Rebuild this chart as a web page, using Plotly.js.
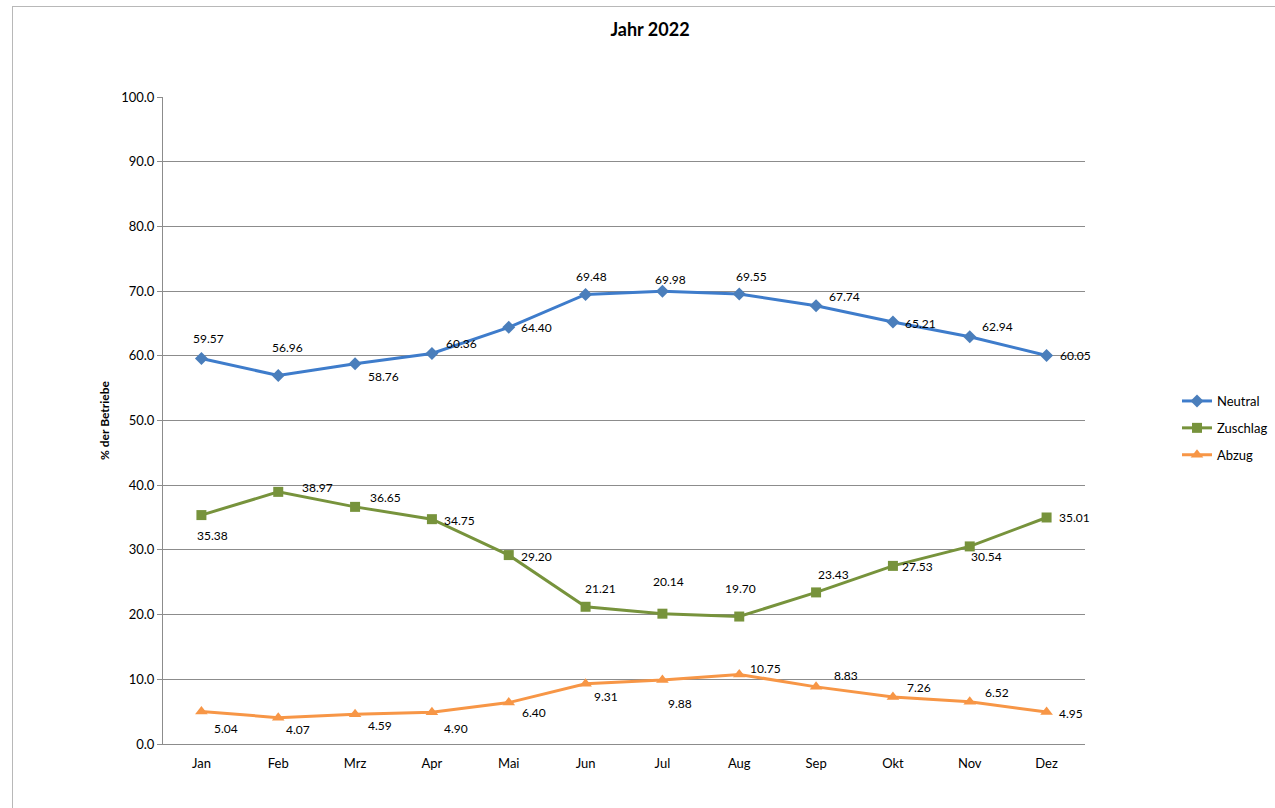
<!DOCTYPE html>
<html>
<head>
<meta charset="utf-8">
<script src="https://cdn.plot.ly/plotly-3.0.1.min.js"></script>
<style>
  html, body { margin: 0; padding: 0; background: #ffffff; overflow: hidden; }
  #frame { position: absolute; left: 12px; top: 6px; width: 1400px; height: 900px; border: 1.5px solid #b8b8b8; box-sizing: border-box; }
  #chart { position: absolute; left: 0; top: 0; width: 1275px; height: 808px; }
</style>
</head>
<body>
<div id="frame"></div>
<div id="chart"></div>
<script>
// ---- data ----
const months = ["Jan", "Feb", "Mrz", "Apr", "Mai", "Jun", "Jul", "Aug", "Sep", "Okt", "Nov", "Dez"];
const neutral = [59.57, 56.96, 58.76, 60.36, 64.40, 69.48, 69.98, 69.55, 67.74, 65.21, 62.94, 60.05];
const zuschlag = [35.38, 38.97, 36.65, 34.75, 29.20, 21.21, 20.14, 19.70, 23.43, 27.53, 30.54, 35.01];
const abzug = [5.04, 4.07, 4.59, 4.90, 6.40, 9.31, 9.88, 10.75, 8.83, 7.26, 6.52, 4.95];
const seriesNames = ["Neutral", "Zuschlag", "Abzug"];
const yTickVals = [0, 10, 20, 30, 40, 50, 60, 70, 80, 90, 100];

// ---- label offsets (pixels: dx right, dy down) ----
const neutralOff = [[7,-20],[9,-28],[28,13],[30,-10],[28,0],[6,-18],[8,-12],[12,-18],[28,-9],[28,1],[28,-10],[29,0]];
const zuschlagOff = [[11,20],[39,-4],[30,-9],[28,1],[28,1],[15,-18],[6,-32],[1,-28],[17,-18],[25,1],[17,10],[28,0]];
const abzugOff = [[25,17],[20,12],[25,11],[24,16],[25,10],[20,13],[18,23],[26,-6],[30,-11],[26,-10],[27,-9],[24,2]];

const colors = {
  Neutral: { line: "#3e7ccb", marker: "#4a7ebb", symbol: "diamond", size: 10 },
  Zuschlag: { line: "#77933c", marker: "#77933c", symbol: "square", size: 10 },
  Abzug: { line: "#f79646", marker: "#f79646", symbol: "triangle-up", size: 11 }
};

const FONT = "Lato, 'Open Sans', 'DejaVu Sans', sans-serif";
const allValues = [neutral, zuschlag, abzug];
const allOffsets = [neutralOff, zuschlagOff, abzugOff];

const traces = seriesNames.map((name, i) => ({
  type: "scatter",
  mode: "lines+markers",
  name: name,
  x: months,
  y: allValues[i],
  legendgroup: name,
  line: { color: colors[name].line, width: 3 },
  marker: { color: colors[name].marker, symbol: colors[name].symbol, size: colors[name].size },
  hoverinfo: "x+y+name"
}));

const annotations = [];
allValues.forEach((vals, si) => {
  vals.forEach((v, k) => {
    annotations.push({
      x: months[k], y: v, xref: "x", yref: "y",
      text: v.toFixed(2), showarrow: false,
      xshift: allOffsets[si][k][0], yshift: -allOffsets[si][k][1],
      font: { family: FONT, size: 12, color: "#000" }
    });
  });
});

const layout = {
  width: 1275, height: 808,
  paper_bgcolor: "rgba(0,0,0,0)",
  plot_bgcolor: "rgba(0,0,0,0)",
  margin: { l: 163, r: 190, t: 97, b: 64, autoexpand: false },
  font: { family: FONT, size: 13, color: "#000" },
  title: {
    text: "<b>Jahr 2022</b>",
    font: { family: FONT, size: 18, color: "#000" },
    xref: "container", x: 650 / 1275, xanchor: "center",
    yref: "container", y: 1 - 30 / 808, yanchor: "middle"
  },
  xaxis: {
    type: "category",
    range: [-0.5, 11.5],
    showgrid: false,
    zeroline: false,
    showline: true, linecolor: "#8c8c8c", linewidth: 1,
    ticks: "",
    ticklabelstandoff: 7,
    tickfont: { family: FONT, size: 13, color: "#000" },
    fixedrange: true
  },
  yaxis: {
    range: [0, 100],
    tickvals: yTickVals,
    tickformat: ".1f",
    showgrid: true, gridcolor: "#8c8c8c", gridwidth: 1,
    zeroline: false,
    showline: true, linecolor: "#8c8c8c", linewidth: 1,
    ticks: "outside", ticklen: 5, tickcolor: "#8c8c8c",
    tickfont: { family: FONT, size: 13, color: "#000" },
    title: { text: "<b>% der Betriebe</b>", font: { family: FONT, size: 12, color: "#000" }, standoff: 8 },
    fixedrange: true
  },
  showlegend: true,
  legend: {
    x: (1177 - 163) / 922, xanchor: "left",
    y: (744 - 428) / 647, yanchor: "middle",
    font: { family: FONT, size: 13, color: "#000" },
    bgcolor: "rgba(0,0,0,0)",
    traceorder: "grouped",
    tracegroupgap: 7,
    itemwidth: 30
  },
  annotations: annotations
};

Plotly.newPlot("chart", traces, layout, { displayModeBar: false, staticPlot: false });
</script>
</body>
</html>
